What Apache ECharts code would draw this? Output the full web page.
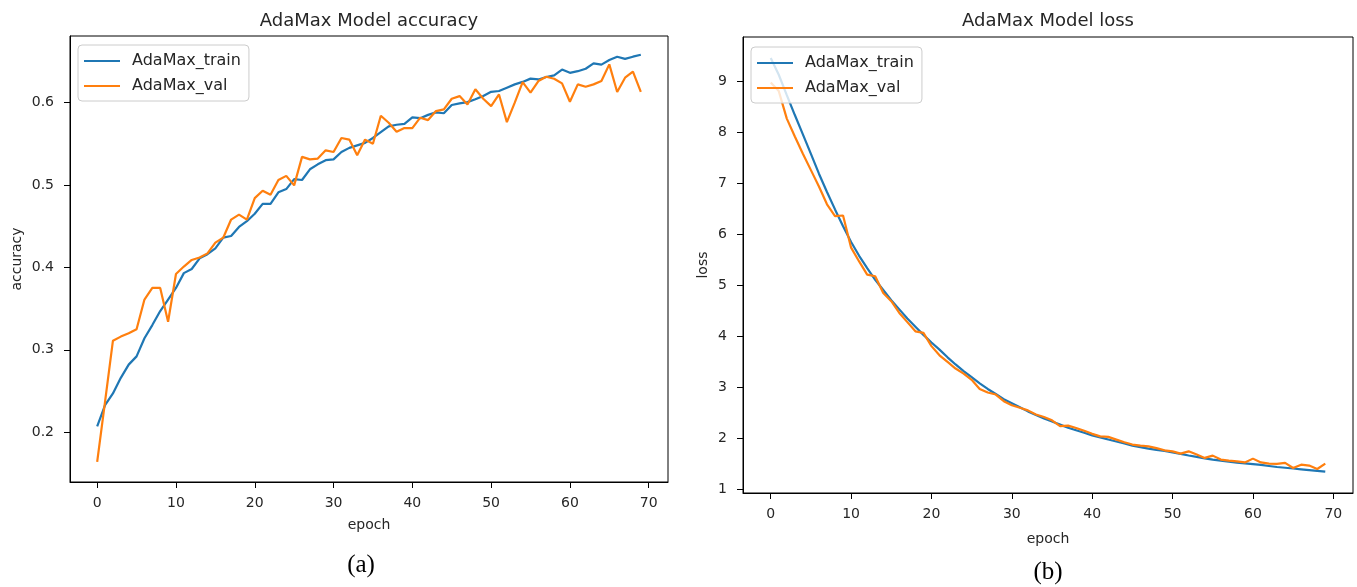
<!DOCTYPE html>
<html>
<head>
<meta charset="utf-8">
<script src="https://cdn.jsdelivr.net/npm/echarts@6/dist/echarts.min.js"></script>
<style>
html,body{margin:0;padding:0;background:#fff;}
#c{width:1357px;height:587px;}
</style>
</head>
<body>
<div id="c"></div>
<script>
// ---- data ----
const accTrain = [0.207,0.233,0.247,0.266,0.282,0.292,0.314,0.330,0.347,0.361,
  0.375,0.393,0.398,0.411,0.416,0.423,0.436,0.438,0.449,0.456,
  0.465,0.477,0.477,0.491,0.495,0.507,0.506,0.519,0.525,0.530,
  0.531,0.540,0.545,0.548,0.551,0.557,0.564,0.571,0.573,0.574,
  0.582,0.581,0.585,0.588,0.587,0.597,0.599,0.6005,0.604,0.608,
  0.613,0.614,0.618,0.622,0.625,0.629,0.628,0.631,0.633,0.640,
  0.636,0.638,0.641,0.6475,0.646,0.6515,0.6556,0.653,0.6556,0.658];
const accVal = [0.164,0.237,0.311,0.316,0.320,0.325,0.361,0.375,0.375,0.334,
  0.392,0.401,0.409,0.412,0.417,0.430,0.436,0.458,0.464,0.458,
  0.484,0.493,0.488,0.506,0.511,0.4995,0.534,0.531,0.532,0.542,
  0.540,0.557,0.555,0.536,0.555,0.550,0.584,0.5755,0.5645,0.569,
  0.569,0.5816,0.5787,0.5896,0.5916,0.6046,0.6078,0.5977,0.616,0.6046,
  0.5956,0.6098,0.5762,0.5998,0.6248,0.612,0.626,0.6313,0.6289,0.6232,
  0.601,0.622,0.6192,0.622,0.626,0.6463,0.6128,0.6301,0.6374,0.6128];
const lossTrain = [9.45,9.12,8.72,8.33,7.95,7.57,7.18,6.82,6.48,6.15,
  5.84,5.57,5.33,5.10,4.90,4.70,4.52,4.34,4.18,4.02,
  3.87,3.73,3.58,3.44,3.31,3.19,3.07,2.96,2.86,2.76,
  2.68,2.60,2.52,2.45,2.38,2.32,2.26,2.20,2.15,2.10,
  2.05,2.01,1.97,1.93,1.89,1.85,1.82,1.79,1.765,1.745,
  1.715,1.686,1.656,1.627,1.60,1.575,1.555,1.535,1.517,1.50,
  1.485,1.47,1.45,1.43,1.415,1.40,1.385,1.37,1.355,1.34];
const lossVal = [8.97,8.80,8.26,7.91,7.57,7.25,6.93,6.58,6.35,6.36,
  5.73,5.46,5.20,5.17,4.84,4.68,4.45,4.27,4.09,4.06,
  3.80,3.62,3.49,3.36,3.26,3.14,2.96,2.89,2.85,2.72,
  2.64,2.59,2.54,2.46,2.41,2.345,2.23,2.24,2.195,2.14,
  2.08,2.03,2.02,1.967,1.914,1.87,1.85,1.835,1.80,1.757,
  1.737,1.692,1.737,1.673,1.608,1.653,1.575,1.555,1.54,1.52,
  1.594,1.52,1.496,1.49,1.51,1.41,1.476,1.457,1.39,1.496];
const epochTicks = [0,10,20,30,40,50,60,70];
const accTicks = [0.2,0.3,0.4,0.5,0.6];
const lossTicks = [1,2,3,4,5,6,7,8,9];
const seriesNames = ['AdaMax_train','AdaMax_val'];
const titles = ['AdaMax Model accuracy','AdaMax Model loss'];
const panelLabels = ['(a)','(b)'];

// ---- chart ----
const FONT = 'DejaVu Sans';
const TXT = '#262626';
const BLUE = '#1f77b4', ORANGE = '#ff7f0e';
const pairs = arr => arr.map((v,i)=>[i,v]);

function xAxisDef(gi, gap){
  return {
    type:'value', gridIndex:gi, min:-3.45, max:72.45,
    name:'epoch', nameLocation:'middle', nameGap:gap,
    nameTextStyle:{fontFamily:FONT,fontSize:14,color:TXT},
    axisLine:{show:true,onZero:false,lineStyle:{color:'#000',width:1}},
    axisTick:{show:true,length:6,inside:false,customValues:epochTicks,lineStyle:{color:'#000',width:1}},
    axisLabel:{customValues:epochTicks,margin:14,fontFamily:FONT,fontSize:14,color:TXT,
      formatter:v=>String(Math.round(v))},
    splitLine:{show:false}
  };
}
function yAxisDef(gi, min, max, ticks, name, gap, dec){
  return {
    type:'value', gridIndex:gi, min:min, max:max,
    name:name, nameLocation:'middle', nameGap:gap, nameRotate:90,
    nameTextStyle:{fontFamily:FONT,fontSize:14,color:TXT},
    axisLine:{show:true,onZero:false,lineStyle:{color:'#000',width:1}},
    axisTick:{show:true,length:6,inside:false,customValues:ticks,lineStyle:{color:'#000',width:1}},
    axisLabel:{customValues:ticks,margin:16,fontFamily:FONT,fontSize:14,color:TXT,
      formatter:v=>Number(v).toFixed(dec)},
    splitLine:{show:false}
  };
}
function lineSeries(name, data, color, gi){
  return {
    type:'line', name:name, xAxisIndex:gi, yAxisIndex:gi,
    data:pairs(data), showSymbol:false, symbol:'none',
    lineStyle:{color:color,width:2.2}, itemStyle:{color:color},
    z:2
  };
}
function legendDef(left, top){
  return {
    data:seriesNames, orient:'vertical', left:left, top:top,
    icon:'rect', itemWidth:36, itemHeight:2, itemGap:7,
    padding:[7,8,6,6],
    backgroundColor:'rgba(255,255,255,0.8)', borderColor:'#cccccc', borderWidth:1, borderRadius:4,
    textStyle:{fontFamily:FONT,fontSize:16,color:TXT,lineHeight:18,padding:[0,0,0,7]},
    selectedMode:false
  };
}

const chart = echarts.init(document.getElementById('c'), null, {renderer:'canvas'});
chart.setOption({
  animation:false,
  backgroundColor:'#fff',
  grid:[
    {left:70, top:36, width:598, height:446, show:true, borderColor:'#000', borderWidth:1, containLabel:false},
    {left:743, top:37, width:610, height:456, show:true, borderColor:'#000', borderWidth:1, containLabel:false}
  ],
  xAxis:[ xAxisDef(0,36), xAxisDef(1,39) ],
  yAxis:[
    yAxisDef(0, 0.1396, 0.6807, accTicks, 'accuracy', 46, 1),
    yAxisDef(1, 0.92, 9.86, lossTicks, 'loss', 33, 0)
  ],
  legend:[ legendDef(78,45), legendDef(751,47) ],
  series:[
    lineSeries(seriesNames[0], accTrain, BLUE, 0),
    lineSeries(seriesNames[1], accVal, ORANGE, 0),
    lineSeries(seriesNames[0], lossTrain, BLUE, 1),
    lineSeries(seriesNames[1], lossVal, ORANGE, 1)
  ],
  graphic:[
    {type:'text', x:369, y:21, style:{text:titles[0], font:'18px "DejaVu Sans"', fill:TXT, align:'center', verticalAlign:'middle'}},
    {type:'text', x:1048, y:21, style:{text:titles[1], font:'18px "DejaVu Sans"', fill:TXT, align:'center', verticalAlign:'middle'}},
    {type:'text', x:361, y:565, style:{text:panelLabels[0], font:'25px "Liberation Serif"', fill:'#000', align:'center', verticalAlign:'middle'}},
    {type:'text', x:1048, y:572, style:{text:panelLabels[1], font:'25px "Liberation Serif"', fill:'#000', align:'center', verticalAlign:'middle'}}
  ]
});
</script>
</body>
</html>
